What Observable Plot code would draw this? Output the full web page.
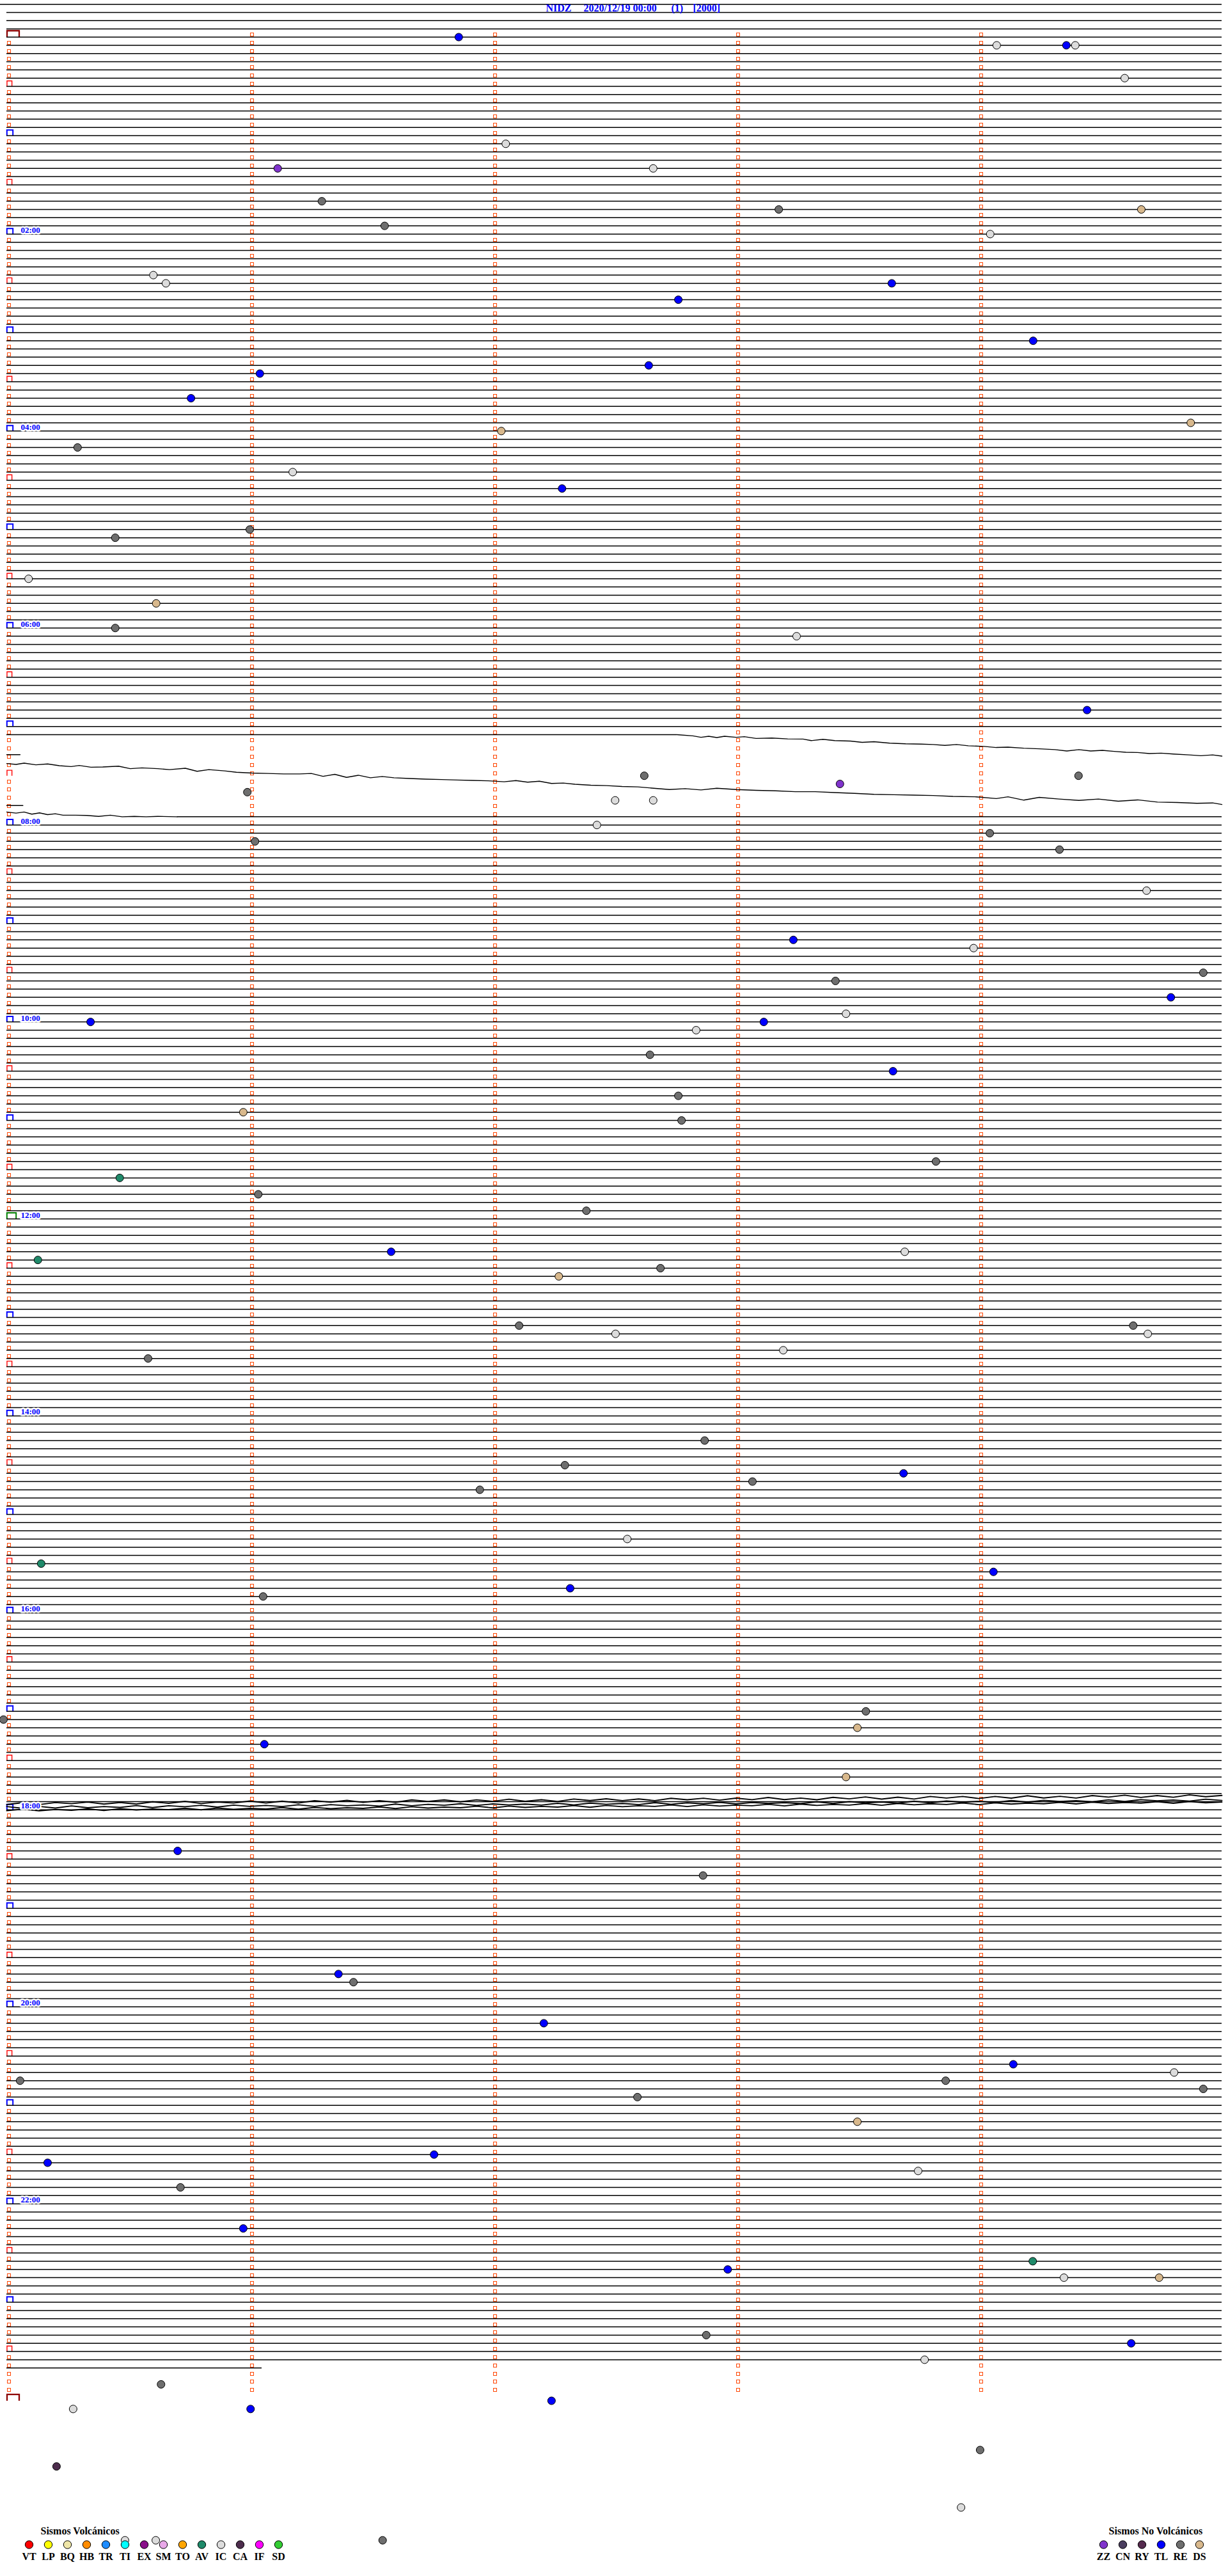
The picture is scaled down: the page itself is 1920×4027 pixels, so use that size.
<!DOCTYPE html>
<html><head><meta charset="utf-8">
<script src="https://cdn.jsdelivr.net/npm/d3@7"></script>
<script src="https://cdn.jsdelivr.net/npm/@observablehq/plot@0.6"></script>
<style>
html,body{margin:0;padding:0;background:#fff;}
#wrap{position:relative;width:1920px;height:4027px;overflow:hidden;background:#fff;}
#legend{position:absolute;left:0;top:3945px;}
svg text{font-family:"Liberation Serif","Times New Roman",serif;}
</style></head><body><div id="wrap"><div id="main"></div><div id="legend"></div></div>
<script>
// ---------- header ----------
const station = "NIDZ";
const dateLabel = "2020/12/19 00:00";
const channelLabel = "(1)";
const gainLabel = "[2000]";

// ---------- rows (5-minute lines, row 0 = 00:00) ----------
const firstRow = -4, lastRow = 284;
const missingRows = [86, 87, 88, 89, 90, 91, 92, 93, 94];
const partialRows = [[-4, -1.58, 300], [85, 0, 165.5], [95, 42.1, 300], [284, 0, 63.0]];
const timeLabels = ["02:00","04:00","06:00","08:00","10:00","12:00","14:00","16:00","18:00","20:00","22:00"];
const timeLabelRows = [24, 48, 72, 96, 120, 144, 168, 192, 216, 240, 264];

// ---------- event classes ----------
const volcanicCodes = ["VT","LP","BQ","HB","TR","TI","EX","SM","TO","AV","IC","CA","IF","SD"];
const volcanicColors = ["#ff0000","#ffff00","#efe6a8","#ff8c00","#1e8cff","#00ffff","#8a108a","#e8a8e8","#ffa500","#1f8a6a","#dcdcdc","#4d2d4d","#ff00ff","#33cc33"];
const nonVolcanicCodes = ["ZZ","CN","RY","TL","RE","DS"];
const nonVolcanicColors = ["#8033cc","#4a3d5e","#552a4e","#0000ff","#6e6e6e","#d8b88c"];

// ---------- events: row (5-min line), seconds into line, class ----------
const eventRow = [0,1,1,1,5,13,16,16,20,23,21,21,24,29,30,32,30,37,40,41,44,47,48,50,53,55,61,60,66,69,72,73,82,90,90,91,92,93,93,96,97,98,99,104,110,111,115,114,117,120,120,119,121,124,126,129,131,132,137,139,141,143,149,148,148,150,151,157,158,157,158,160,161,171,174,177,176,175,183,186,189,187,190,205,204,206,208,212,221,224,236,237,242,247,248,250,249,249,251,254,258,259,260,262,267,272,271,273,273,280,281,283,286,289,289,288,296,294,301,305,305,305];
const eventSec = [111.6,244.4,261.6,263.8,276.0,123.2,159.6,66.9,77.8,93.3,190.6,280.1,242.8,36.2,39.3,165.8,218.5,253.4,158.5,62.5,45.5,292.3,122.1,17.5,70.6,137.1,26.8,60.0,5.4,36.9,26.8,195.0,266.7,157.4,264.6,205.7,59.4,150.2,159.6,145.7,242.7,61.3,259.9,281.4,194.2,238.7,204.6,295.4,287.4,20.7,186.9,207.2,170.2,158.8,218.8,165.8,58.4,166.6,229.4,27.9,62.1,143.1,7.7,94.9,221.7,161.4,136.3,126.5,150.3,278.1,281.7,191.7,34.9,172.3,137.8,116.8,184.1,221.4,153.2,8.5,139.1,243.6,63.3,-0.8,212.1,210.0,63.6,207.2,42.2,171.9,81.9,85.6,132.6,248.5,288.2,295.4,231.8,3.3,155.7,210.0,105.5,10.1,225.0,42.9,58.4,178.0,253.3,261.0,284.5,172.7,277.6,226.6,38.1,16.4,60.2,134.5,12.3,240.3,235.6,92.8,29.2,36.8];
const eventType = ["TL","IC","TL","IC","IC","IC","IC","ZZ","RE","RE","RE","DS","IC","IC","IC","TL","TL","TL","TL","TL","TL","DS","DS","RE","IC","TL","RE","RE","IC","DS","RE","IC","TL","RE","RE","ZZ","RE","IC","IC","IC","RE","RE","RE","IC","TL","IC","RE","RE","TL","TL","TL","IC","IC","RE","TL","RE","DS","RE","RE","AV","RE","RE","AV","TL","IC","RE","DS","RE","IC","RE","IC","IC","RE","RE","RE","RE","RE","TL","IC","AV","TL","TL","RE","RE","RE","DS","TL","DS","TL","RE","TL","RE","TL","TL","IC","RE","RE","RE","RE","DS","TL","TL","IC","RE","TL","TL","AV","IC","DS","RE","TL","IC","RE","IC","TL","TL","CA","RE","IC","RE","IC","IC"];

// ---------- seismic traces (seconds, row position) ----------
const trace1Sec = [165.5,169.4,171.4,173.3,175.3,177.2,180.1,182.1,185.0,188.9,192.8,196.6,198.6,201.5,204.4,208.3,211.2,214.1,218.0,221.9,225.8,228.7,231.6,234.5,237.4,241.3,244.3,247.2,251.1,255.0,258.8,261.7,264.7,267.6,270.5,273.4,276.3,279.2,282.1,285.0,288.0,291.9,294.8,297.7,300.0];
const trace1Row = [85.0,85.14,85.32,85.19,85.35,85.19,85.32,85.24,85.45,85.40,85.51,85.53,85.72,85.56,85.72,85.77,85.93,85.85,86.03,86.11,86.14,86.19,86.30,86.19,86.35,86.43,86.56,86.51,86.64,86.72,86.82,86.98,86.82,86.98,86.90,87.03,87.14,87.17,87.30,87.25,87.35,87.46,87.56,87.46,87.61];
const trace2Sec = [0,2.3,4.3,7.2,10.1,13.0,15.9,17.9,20.8,23.7,27.6,30.5,33.4,37.3,40.2,44.1,47.0,49.9,53.8,56.7,60.6,64.5,68.4,72.3,75.2,78.1,81.0,83.9,86.8,89.8,92.7,95.6,99.5,103.4,107.3,111.1,115.0,118.9,122.8,125.7,128.6,131.5,134.5,137.4,140.3,144.2,148.1,151.9,155.8,159.7,163.6,167.5,171.4,175.3,180.1,185.0,189.8,194.7,199.6,204.4,209.3,214.1,219.0,223.9,228.7,233.6,239.4,244.3,247.2,251.1,254.9,259.8,264.7,269.5,274.4,279.2,284.1,289.0,293.8,297.7,300.0];
const trace2Row = [88.51,88.62,88.46,88.67,88.56,88.78,88.88,88.75,88.96,88.93,88.83,89.14,89.04,89.14,89.25,89.09,89.46,89.25,89.41,89.57,89.67,89.72,89.78,89.78,89.72,90.07,89.83,90.20,89.94,90.25,90.09,90.25,90.33,90.41,90.46,90.52,90.57,90.62,90.73,90.59,90.78,90.67,90.94,90.89,91.04,91.15,91.20,91.31,91.36,91.52,91.68,91.57,91.73,91.52,91.68,91.78,91.83,91.94,91.94,92.05,92.15,92.26,92.31,92.36,92.41,92.52,92.57,92.78,92.57,92.97,92.63,92.84,93.00,92.84,93.10,92.94,93.21,93.26,93.36,93.31,93.50];
const trace3Sec = [0,2.3,4.3,6.2,8.1,10.1,12.0,13.9,16.9,19.8,22.7,25.6,28.5,31.5,34.4,37.3,42.1];
const trace3Row = [94.42,94.55,94.42,94.68,94.52,94.74,94.63,94.81,94.81,94.84,94.95,94.81,95.0,94.95,95.0,94.95,95.0];
const tick1Sec = [0, 3.3], tick1Row = [87.43, 87.43];
const tick2Sec = [0, 4.0], tick2Row = [93.63, 93.63];
// 18:00 noisy band (three overlapping traces, one sample every 4 s)
const bandSec = d3.range(0, 301, 4);
const bandTopRow = [215.35,215.12,215.36,215.11,215.25,215.05,215.29,215.10,215.29,215.02,215.20,214.96,215.23,215.04,215.17,214.92,215.17,214.94,215.17,214.89,215.06,214.85,215.09,214.88,215.08,214.79,214.97,214.79,215.02,214.78,214.97,214.70,214.96,214.77,214.97,214.68,214.87,214.65,214.88,214.67,214.88,214.59,214.77,214.58,214.82,214.57,214.76,214.50,214.75,214.56,214.77,214.48,214.66,214.43,214.69,214.46,214.68,214.37,214.56,214.37,214.62,214.37,214.57,214.28,214.55,214.35,214.56,214.26,214.45,214.21,214.49,214.26,214.47,214.17,214.40,214.24];
const bandMidRow = [215.60,215.82,215.58,215.78,215.52,215.74,215.60,215.70,215.48,215.72,215.50,215.62,215.44,215.66,215.42,215.58,215.46,215.60,215.38,215.58,215.36,215.50,215.40,215.54,215.30,215.50,215.32,215.44,215.26,215.46,215.28,215.40,215.30,215.42,215.20,215.40,215.18,215.32,215.22,215.36,215.12,215.32,215.14,215.26,215.08,215.28,215.10,215.22,215.12,215.24,215.02,215.22,215.00,215.14,215.04,215.18,214.94,215.14,214.92,215.06,214.96,215.10,214.86,215.06,214.84,214.98,214.88,215.02,214.78,214.98,214.76,214.90,214.80,214.94,214.70,214.86];
const bandLowRow = [216.10,215.92,216.12,215.96,216.06,215.88,216.08,215.86,216.02,215.90,215.98,215.80,216.00,215.78,215.94,215.82,215.90,215.72,215.92,215.70,215.86,215.74,215.82,215.64,215.84,215.62,215.78,215.66,215.74,215.56,215.76,215.54,215.70,215.58,215.66,215.48,215.68,215.46,215.62,215.50,215.58,215.40,215.60,215.38,215.54,215.42,215.50,215.32,215.52,215.30,215.46,215.34,215.42,215.24,215.44,215.22,215.38,215.26,215.34,215.16,215.36,215.14,215.30,215.18,215.26,215.08,215.28,215.06,215.22,215.10,215.18,215.00,215.20,214.98,215.14,215.04];

// ---------- build tables ----------
const colorOf = new Map([...volcanicCodes.map((c,i)=>[c,volcanicColors[i]]), ...nonVolcanicCodes.map((c,i)=>[c,nonVolcanicColors[i]])]);
const events = eventRow.map((r,i)=>({row:r, sec:eventSec[i], type:eventType[i]}));
const lines = d3.range(firstRow, lastRow+1).filter(r=>!missingRows.includes(r)).map(r=>{
  const p = partialRows.find(q=>q[0]===r);
  return {row:r, from: p ? p[1] : 0, to: p ? p[2] : 300};
});
const traces = [];
const addTrace = (id, xs, ys) => xs.forEach((x,i)=>{ if (ys[i] !== undefined) traces.push({id, sec:x, row:ys[i]}); });
addTrace("t1", trace1Sec, trace1Row);
addTrace("t2", trace2Sec, trace2Row);
addTrace("t3", trace3Sec, trace3Row);
addTrace("k1", tick1Sec, tick1Row);
addTrace("k2", tick2Sec, tick2Row);
const band = [];
bandSec.forEach((s,i)=>{
  band.push({id:"b1", sec:s, row:bandTopRow[i]});
  band.push({id:"b2", sec:s, row:bandMidRow[i]});
  band.push({id:"b3", sec:s, row:bandLowRow[i]});
});

const minuteMarks = [];
for (let r = 0; r < 288; r++) for (let c = 0; c < 5; c++) {
  if (c === 0 && r % 6 === 0) continue;
  minuteMarks.push({row:r, sec:c*60});
}
const allRows = d3.range(0, 289);
const dayRows = allRows.filter(r => r === 0 || r === 288);
const noonRows = allRows.filter(r => r === 144);
const hourRows = allRows.filter(r => r % 12 === 0 && r !== 0 && r !== 288 && r !== 144);
const halfRows = allRows.filter(r => r % 12 === 6);
const labels = timeLabels.map((t,i)=>({row:timeLabelRows[i], text:t}));

const box = (w,h) => ({draw(ctx){ ctx.rect(-w/2,-h/2,w,h); }});
const cup = (w,h) => ({draw(ctx){ ctx.moveTo(-w/2,h/2); ctx.lineTo(-w/2,-h/2); ctx.lineTo(w/2,-h/2); ctx.lineTo(w/2,h/2); }});

const headerStyle = {frameAnchor:"top-left", lineAnchor:"middle", dy:12.6, fill:"#0000ff", fontSize:16, fontWeight:"bold", textAnchor:"start"};

const main = Plot.plot({
  width:1920, height:4027, margin:0,
  x:{domain:[0,300], range:[10,1910], axis:null},
  y:{domain:[-4.4817, 309.39], range:[0,4027], axis:null},
  color:{type:"identity"},
  style:{background:"#fff", overflow:"visible"},
  marks:[
    Plot.dot(minuteMarks, {x:"sec", y:"row", symbol:box(5,5), dx:3, dy:-4, stroke:"#ff4500", strokeWidth:1, fill:"none", shapeRendering:"crispEdges"}),
    Plot.dot(halfRows, {x:0, y:d=>d, symbol:cup(7.7,8.5), dx:4.3, dy:-4.3, stroke:"#ff0000", strokeWidth:1.4, fill:"none"}),
    Plot.dot(hourRows, {x:0, y:d=>d, symbol:cup(9.4,8.6), dx:5, dy:-4.3, stroke:"#0000ff", strokeWidth:2, fill:"none"}),
    Plot.dot(noonRows, {x:0, y:d=>d, symbol:cup(14.4,9.5), dx:7.5, dy:-4.75, stroke:"#008000", strokeWidth:2, fill:"none"}),
    Plot.dot(dayRows, {x:0, y:d=>d, symbol:cup(19,10), dx:10, dy:-5, stroke:"#8b0000", strokeWidth:2.3, fill:"none"}),
    Plot.ruleY(lines, {y:"row", x1:"from", x2:"to", stroke:"#000", strokeWidth:1.5}),
    Plot.line(traces, {x:"sec", y:"row", z:"id", stroke:"#000", strokeWidth:1.4, curve:"linear"}),
    Plot.line(band, {x:"sec", y:"row", z:"id", stroke:"#000", strokeWidth:1.9, curve:"linear"}),
    Plot.text(labels, {x:0, y:"row", text:"text", dx:22, dy:-6.2, textAnchor:"start", lineAnchor:"middle", fill:"#0000ff", fontSize:13, fontWeight:"bold", stroke:"#fff", strokeWidth:5}),
    Plot.text([station], {...headerStyle, dx:853}),
    Plot.text([dateLabel], {...headerStyle, dx:912}),
    Plot.text([channelLabel], {...headerStyle, dx:1049}),
    Plot.text([gainLabel], {...headerStyle, dx:1083}),
    Plot.dot(events, {x:"sec", y:"row", r:6, fill:d=>colorOf.get(d.type), stroke:"#000", strokeWidth:1})
  ]
});
document.getElementById("main").appendChild(main);

// ---------- legend ----------
const legendItems = [
  ...volcanicCodes.map((c,i)=>({slot:i, code:c, color:volcanicColors[i]})),
  ...nonVolcanicCodes.map((c,i)=>({slot:56+i, code:c, color:nonVolcanicColors[i]}))
];
const legendTitles = [{slot:0.6, text:"Sismos Volcánicos"}, {slot:56.27, text:"Sismos No Volcánicos"}];
const legend = Plot.plot({
  width:1920, height:80, margin:0,
  x:{domain:[0,61], range:[45,1875], axis:null},
  color:{type:"identity"},
  style:{background:"transparent", overflow:"visible"},
  marks:[
    Plot.text(legendTitles, {x:"slot", text:"text", frameAnchor:"top", lineAnchor:"middle", dy:11.6, textAnchor:"start", fontSize:16, fontWeight:"bold", fill:"#000"}),
    Plot.dot(legendItems, {x:"slot", frameAnchor:"top", dy:32.5, r:6.2, fill:"color", stroke:"#000", strokeWidth:1}),
    Plot.text(legendItems, {x:"slot", text:"code", frameAnchor:"top", lineAnchor:"middle", dy:51.6, fontSize:16, fontWeight:"bold", fill:"#000"})
  ]
});
document.getElementById("legend").appendChild(legend);
</script></body></html>
